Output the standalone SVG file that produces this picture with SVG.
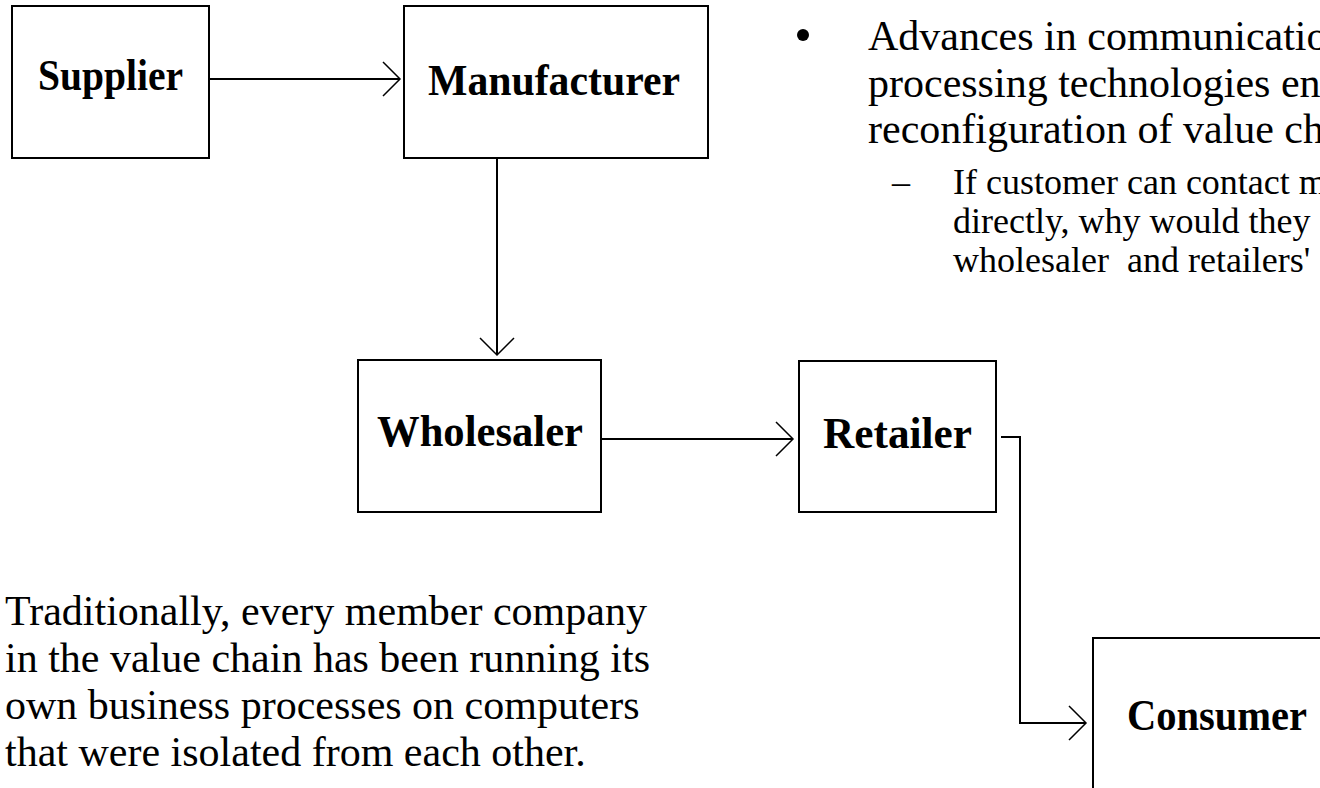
<svg xmlns="http://www.w3.org/2000/svg" width="1320" height="788" viewBox="0 0 1320 788">
  <style>
    .box { fill: #ffffff; stroke: #000000; stroke-width: 2; }
    .lbl { font-family: "Liberation Serif", "Times New Roman", serif; font-weight: bold; font-size: 44px; fill: #000000; }
    .body { font-family: "Liberation Serif", "Times New Roman", serif; font-size: 42px; fill: #000000; }
    .sub { font-family: "Liberation Serif", "Times New Roman", serif; font-size: 36px; fill: #000000; }
    .conn { fill: none; stroke: #000000; stroke-width: 2; }
  </style>
  <defs>
    <marker id="chev" markerUnits="userSpaceOnUse" markerWidth="40" markerHeight="40" viewBox="-20 -20 40 40" refX="0" refY="0" orient="auto">
      <path d="M-17,-17 L0,0 L-17,17" fill="none" stroke="#000000" stroke-width="1.5"/>
    </marker>
  </defs>
  <rect width="1320" height="788" fill="#ffffff"/>

  <g id="supplier">
    <rect class="box" x="12" y="6" width="197" height="152"/>
    <text class="lbl" x="38" y="90" textLength="145" lengthAdjust="spacingAndGlyphs">Supplier</text>
  </g>
  <g id="manufacturer">
    <rect class="box" x="404" y="6" width="304" height="152"/>
    <text class="lbl" x="428" y="95" textLength="252" lengthAdjust="spacingAndGlyphs">Manufacturer</text>
  </g>
  <g id="wholesaler">
    <rect class="box" x="358" y="360" width="243" height="152"/>
    <text class="lbl" x="377" y="446" textLength="206" lengthAdjust="spacingAndGlyphs">Wholesaler</text>
  </g>
  <g id="retailer">
    <rect class="box" x="799" y="361" width="197" height="151"/>
    <text class="lbl" x="823" y="448" textLength="149" lengthAdjust="spacingAndGlyphs">Retailer</text>
  </g>
  <g id="consumer">
    <rect class="box" x="1093" y="638" width="260" height="180"/>
    <text class="lbl" x="1127" y="730" textLength="180" lengthAdjust="spacingAndGlyphs">Consumer</text>
  </g>

  <g id="connectors">
    <path class="conn" d="M209,79 L400,79" marker-end="url(#chev)"/>
    <path class="conn" d="M497,158 L497,355" marker-end="url(#chev)"/>
    <path class="conn" d="M601,439 L793,439" marker-end="url(#chev)"/>
    <path class="conn" d="M1001,437 L1020,437 L1020,723 L1086,723" marker-end="url(#chev)"/>
  </g>

  <g id="bullet-text">
    <circle cx="803" cy="35" r="6" fill="#000000"/>
    <text class="body" x="868" y="50">Advances in communicatio</text>
    <text class="body" x="868" y="97">processing technologies en</text>
    <text class="body" x="868" y="143">reconfiguration of value ch</text>
    <text class="sub" x="892" y="194">–</text>
    <text class="sub" x="953" y="194">If customer can contact m</text>
    <text class="sub" x="953" y="233">directly, why would they</text>
    <text class="sub" x="953" y="272" xml:space="preserve">wholesaler  and retailers'</text>
  </g>

  <g id="note-text">
    <text class="body" x="5" y="625">Traditionally, every member company</text>
    <text class="body" x="5" y="672">in the value chain has been running its</text>
    <text class="body" x="5" y="719">own business processes on computers</text>
    <text class="body" x="5" y="766">that were isolated from each other.</text>
  </g>
</svg>
